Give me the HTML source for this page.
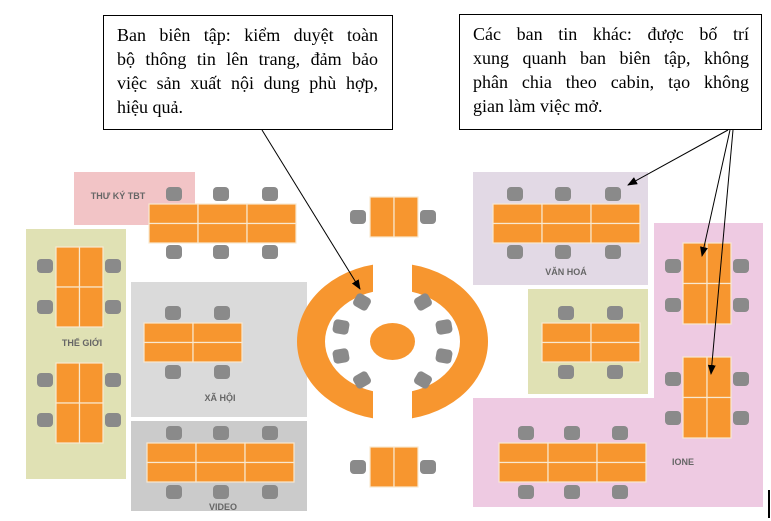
<!DOCTYPE html>
<html><head><meta charset="utf-8"><style>
html,body{margin:0;padding:0;background:#fff;width:771px;height:521px;overflow:hidden}
.box{position:absolute;border:1.3px solid #000;background:#fff;font-family:"Liberation Serif",serif;font-size:18px;line-height:24px;color:#000;box-sizing:border-box}
.j{text-align:justify;text-align-last:justify;white-space:nowrap}
.l{text-align:left;white-space:nowrap}
</style></head><body>
<svg width="771" height="521" style="position:absolute;left:0;top:0" xmlns="http://www.w3.org/2000/svg">
<defs>
<g id="ch"><rect x="-8" y="-7" width="16" height="14" rx="4" fill="#8a8a8a"/></g>
<marker id="ar" markerWidth="10" markerHeight="8" refX="9" refY="4" orient="auto" markerUnits="userSpaceOnUse"><path d="M0,0 L10,4 L0,8 z" fill="#000"/></marker>
</defs>
<rect x="74" y="172" width="121" height="53" fill="#f2c4c6"/>
<rect x="26" y="229" width="100" height="250" fill="#e0e1b4"/>
<rect x="131" y="282" width="176" height="135" fill="#dadada"/>
<rect x="131" y="421" width="176" height="90" fill="#cbcbcb"/>
<rect x="473" y="172" width="175" height="113" fill="#e2d9e5"/>
<rect x="528" y="289" width="120" height="105" fill="#e0e1b4"/>
<path d="M654,223 H763 V507 H473 V398 H654 Z" fill="#eecae2"/>
<g font-family="Liberation Sans,sans-serif" font-size="9" font-weight="bold" fill="#666" text-anchor="middle">
<text x="118" y="199">THƯ KÝ TBT</text>
<text x="82" y="346">THẾ GIỚI</text>
<text x="220" y="401">XÃ HỘI</text>
<text x="223" y="510">VIDEO</text>
<text x="566" y="275">VĂN HOÁ</text>
<text x="683" y="465">IONE</text>
</g>
<g>
<use href="#ch" x="174" y="194"/><use href="#ch" x="221" y="194"/><use href="#ch" x="270" y="194"/>
<use href="#ch" x="174" y="252"/><use href="#ch" x="221" y="252"/><use href="#ch" x="270" y="252"/>
<use href="#ch" x="45" y="266"/><use href="#ch" x="45" y="307"/><use href="#ch" x="113" y="266"/><use href="#ch" x="113" y="307"/>
<use href="#ch" x="45" y="380"/><use href="#ch" x="45" y="420"/><use href="#ch" x="113" y="380"/><use href="#ch" x="113" y="420"/>
<use href="#ch" x="173" y="313"/><use href="#ch" x="222" y="313"/><use href="#ch" x="173" y="372"/><use href="#ch" x="222" y="372"/>
<use href="#ch" x="174" y="433"/><use href="#ch" x="221" y="433"/><use href="#ch" x="270" y="433"/>
<use href="#ch" x="174" y="492"/><use href="#ch" x="221" y="492"/><use href="#ch" x="270" y="492"/>
<use href="#ch" x="515" y="194"/><use href="#ch" x="563" y="194"/><use href="#ch" x="613" y="194"/>
<use href="#ch" x="515" y="252"/><use href="#ch" x="563" y="252"/><use href="#ch" x="613" y="252"/>
<use href="#ch" x="566" y="313"/><use href="#ch" x="615" y="313"/><use href="#ch" x="566" y="372"/><use href="#ch" x="615" y="372"/>
<use href="#ch" x="673" y="266"/><use href="#ch" x="673" y="305"/><use href="#ch" x="741" y="266"/><use href="#ch" x="741" y="305"/>
<use href="#ch" x="673" y="379"/><use href="#ch" x="673" y="418"/><use href="#ch" x="741" y="379"/><use href="#ch" x="741" y="418"/>
<use href="#ch" x="526" y="433"/><use href="#ch" x="572" y="433"/><use href="#ch" x="620" y="433"/>
<use href="#ch" x="526" y="492"/><use href="#ch" x="572" y="492"/><use href="#ch" x="620" y="492"/>
<use href="#ch" x="358" y="217"/><use href="#ch" x="428" y="217"/>
<use href="#ch" x="358" y="467"/><use href="#ch" x="428" y="467"/>
</g>
<g fill="#f7962f" stroke="#f8e8d0" stroke-width="1.2">
<rect x="149" y="204" width="49" height="19.5"/><rect x="198" y="204" width="49" height="19.5"/><rect x="247" y="204" width="49" height="19.5"/>
<rect x="149" y="223.5" width="49" height="19.5"/><rect x="198" y="223.5" width="49" height="19.5"/><rect x="247" y="223.5" width="49" height="19.5"/>
<rect x="56" y="247" width="23.5" height="40"/><rect x="79.5" y="247" width="23.5" height="40"/><rect x="56" y="287" width="23.5" height="40"/><rect x="79.5" y="287" width="23.5" height="40"/>
<rect x="56" y="363" width="23.5" height="40"/><rect x="79.5" y="363" width="23.5" height="40"/><rect x="56" y="403" width="23.5" height="40"/><rect x="79.5" y="403" width="23.5" height="40"/>
<rect x="144" y="323" width="49" height="19.5"/><rect x="193" y="323" width="49" height="19.5"/><rect x="144" y="342.5" width="49" height="19.5"/><rect x="193" y="342.5" width="49" height="19.5"/>
<rect x="147" y="443" width="49" height="19.5"/><rect x="196" y="443" width="49" height="19.5"/><rect x="245" y="443" width="49" height="19.5"/>
<rect x="147" y="462.5" width="49" height="19.5"/><rect x="196" y="462.5" width="49" height="19.5"/><rect x="245" y="462.5" width="49" height="19.5"/>
<rect x="493" y="204" width="49" height="19.5"/><rect x="542" y="204" width="49" height="19.5"/><rect x="591" y="204" width="49" height="19.5"/>
<rect x="493" y="223.5" width="49" height="19.5"/><rect x="542" y="223.5" width="49" height="19.5"/><rect x="591" y="223.5" width="49" height="19.5"/>
<rect x="542" y="323" width="49" height="19.5"/><rect x="591" y="323" width="49" height="19.5"/><rect x="542" y="342.5" width="49" height="19.5"/><rect x="591" y="342.5" width="49" height="19.5"/>
<rect x="683" y="243" width="24" height="40.5"/><rect x="707" y="243" width="24" height="40.5"/><rect x="683" y="283.5" width="24" height="40.5"/><rect x="707" y="283.5" width="24" height="40.5"/>
<rect x="683" y="357" width="24" height="40.5"/><rect x="707" y="357" width="24" height="40.5"/><rect x="683" y="397.5" width="24" height="40.5"/><rect x="707" y="397.5" width="24" height="40.5"/>
<rect x="499" y="443" width="49" height="19.5"/><rect x="548" y="443" width="49" height="19.5"/><rect x="597" y="443" width="49" height="19.5"/>
<rect x="499" y="462.5" width="49" height="19.5"/><rect x="548" y="462.5" width="49" height="19.5"/><rect x="597" y="462.5" width="49" height="19.5"/>
<rect x="370" y="197" width="24" height="40"/><rect x="394" y="197" width="24" height="40"/>
<rect x="370" y="447" width="24" height="40"/><rect x="394" y="447" width="24" height="40"/>
</g>
<path fill-rule="evenodd" fill="#f7962f" d="M297,341.5 a95.5,78.5 0 1,0 191,0 a95.5,78.5 0 1,0 -191,0 Z M325,341.5 a67.5,52 0 1,0 135,0 a67.5,52 0 1,0 -135,0 Z"/>
<rect x="373" y="255" width="39" height="175" fill="#fff"/>
<ellipse cx="392.5" cy="341.5" rx="22.5" ry="18.5" fill="#f7962f"/>
<g transform="translate(362,302) rotate(30)"><use href="#ch"/></g>
<g transform="translate(341,327) rotate(10)"><use href="#ch"/></g>
<g transform="translate(341,356) rotate(-10)"><use href="#ch"/></g>
<g transform="translate(362,380) rotate(-30)"><use href="#ch"/></g>
<g transform="translate(423,302) rotate(-30)"><use href="#ch"/></g>
<g transform="translate(444,327) rotate(-10)"><use href="#ch"/></g>
<g transform="translate(444,356) rotate(10)"><use href="#ch"/></g>
<g transform="translate(423,380) rotate(30)"><use href="#ch"/></g>
<g stroke="#000" stroke-width="1" fill="none" marker-end="url(#ar)">
<line x1="262" y1="130" x2="360" y2="289"/>
<line x1="728" y1="130" x2="628" y2="185"/>
<line x1="730" y1="130" x2="702" y2="256"/>
<line x1="733" y1="130" x2="711" y2="374"/>
</g>
<rect x="768" y="490" width="2" height="28" fill="#000"/>
</svg>
<div class="box" style="left:103px;top:15px;width:290px;height:115px;padding:7px 14px 0 13px">
<div class="j">Ban biên tập: kiểm duyệt toàn</div>
<div class="j">bộ thông tin lên trang, đảm bảo</div>
<div class="j">việc sản xuất nội dung phù hợp,</div>
<div class="l">hiệu quả.</div>
</div>
<div class="box" style="left:459px;top:14px;width:303px;height:116px;padding:7px 12px 0 13px">
<div class="j">Các ban tin khác: được bố trí</div>
<div class="j">xung quanh ban biên tập, không</div>
<div class="j">phân chia theo cabin, tạo không</div>
<div class="l">gian làm việc mở.</div>
</div>
</body></html>
